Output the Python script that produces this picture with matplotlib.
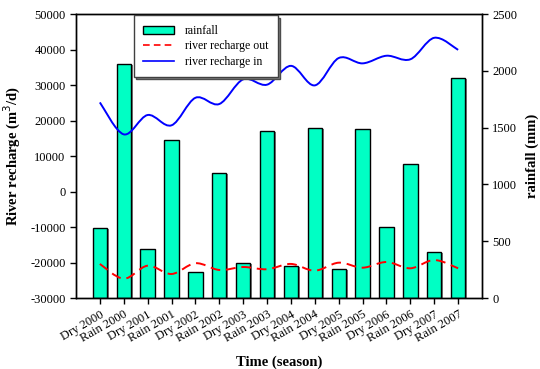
import numpy as np
import matplotlib
matplotlib.use("Agg")
import matplotlib.pyplot as plt
import matplotlib.patheffects as pe
from matplotlib.path import Path
from matplotlib.patches import PathPatch, Patch
from matplotlib.lines import Line2D

plt.rcParams['font.family'] = ['Liberation Serif', 'DejaVu Serif']
plt.rcParams['axes.unicode_minus'] = False

seasons = ["Dry 2000", "Rain 2000", "Dry 2001", "Rain 2001", "Dry 2002", "Rain 2002",
           "Dry 2003", "Rain 2003", "Dry 2004", "Rain 2004", "Dry 2005", "Rain 2005",
           "Dry 2006", "Rain 2006", "Dry 2007", "Rain 2007"]

# rainfall (mm), right axis
rainfall = [614, 2057, 429, 1388, 226, 1098, 311, 1470,
            284, 1499, 258, 1488, 622, 1180, 405, 1934]

# river recharge (m3/d), left axis
recharge_in = [25100, 16100, 21550, 18650, 26400, 24650, 31600, 30100,
               35400, 29900, 37600, 36100, 38250, 37250, 43300, 39900]
recharge_out = [-20400, -24560, -20900, -23240, -20200, -22100, -21270, -21900,
                -20400, -22300, -20050, -21460, -19860, -21630, -19300, -21630]


def smooth_path(xs, ys):
    # Catmull-Rom curve through the points, expressed as cubic Bezier segments
    pts = np.column_stack([xs, ys]).astype(float)
    ext = np.vstack([pts[0], pts, pts[-1]])
    verts = [pts[0]]
    codes = [Path.MOVETO]
    for i in range(len(pts) - 1):
        p0, p1, p2, p3 = ext[i], ext[i + 1], ext[i + 2], ext[i + 3]
        verts += [p1 + (p2 - p0) / 6, p2 - (p3 - p1) / 6, p2]
        codes += [Path.CURVE4] * 3
    return Path(verts, codes)


x = np.arange(len(seasons))

fig = plt.figure(figsize=(5.4, 3.69), dpi=100)
ax = fig.add_axes([0.1407, 0.1924, 0.7519, 0.7696])
ax2 = ax.twinx()

bar_color = '#00FFC4'
ax2.bar(x, rainfall, width=0.6, color=bar_color, edgecolor='black', linewidth=1.0,
        path_effects=[pe.SimplePatchShadow(offset=(1.2, -0.8), shadow_rgbFace='#808080', alpha=1.0),
                      pe.Normal()])
ax2.set_ylim(0, 2500)
ax2.set_yticks([0, 500, 1000, 1500, 2000, 2500])

# draw lines on top of bars
ax.set_zorder(ax2.get_zorder() + 1)
ax.patch.set_visible(False)

ax.add_patch(PathPatch(smooth_path(x, recharge_in), fill=False, edgecolor='#0000FF', linewidth=1.4))
ax.add_patch(PathPatch(smooth_path(x, recharge_out), fill=False, edgecolor='#FF0000',
                       linewidth=1.4, linestyle=(0, (5, 3))))

ax.set_xlim(-1, 16)
ax.set_ylim(-30000, 50000)
ax.set_yticks(np.arange(-30000, 50001, 10000))
ax.set_xticks(x)
ax.set_xticklabels(seasons, rotation=30, ha='right', rotation_mode='anchor', fontsize=9)

for a in (ax, ax2):
    a.tick_params(direction='out', length=4, width=1, labelsize=9)
    for s in a.spines.values():
        s.set_linewidth(1.0)

ax.set_ylabel('River recharge (m$^3$/d)', fontsize=10.5, fontweight='bold', labelpad=5)
ax2.set_ylabel('rainfall (mm)', fontsize=10.5, fontweight='bold', labelpad=6)
ax.set_xlabel('Time (season)', fontsize=10.5, fontweight='bold', labelpad=8)

handles = [Patch(facecolor=bar_color, edgecolor='black', linewidth=1.0),
           Line2D([], [], color='#FF0000', linestyle=(0, (4, 2.5)), linewidth=1.2),
           Line2D([], [], color='#0000FF', linewidth=1.2)]
leg = ax.legend(handles, ['rainfall', 'river recharge out', 'river recharge in'],
                loc='upper left', bbox_to_anchor=(0.143, 0.995), borderaxespad=0,
                fontsize=8.5, fancybox=False,
                shadow={'ox': 1.5, 'oy': -1.5, 'facecolor': '#808080', 'alpha': 1},
                framealpha=1, edgecolor='#404040',
                handlelength=2.6, handletextpad=0.9, borderpad=0.8, labelspacing=0.3)
leg.get_frame().set_linewidth(1.0)

fig.savefig('out.png', dpi=100)
